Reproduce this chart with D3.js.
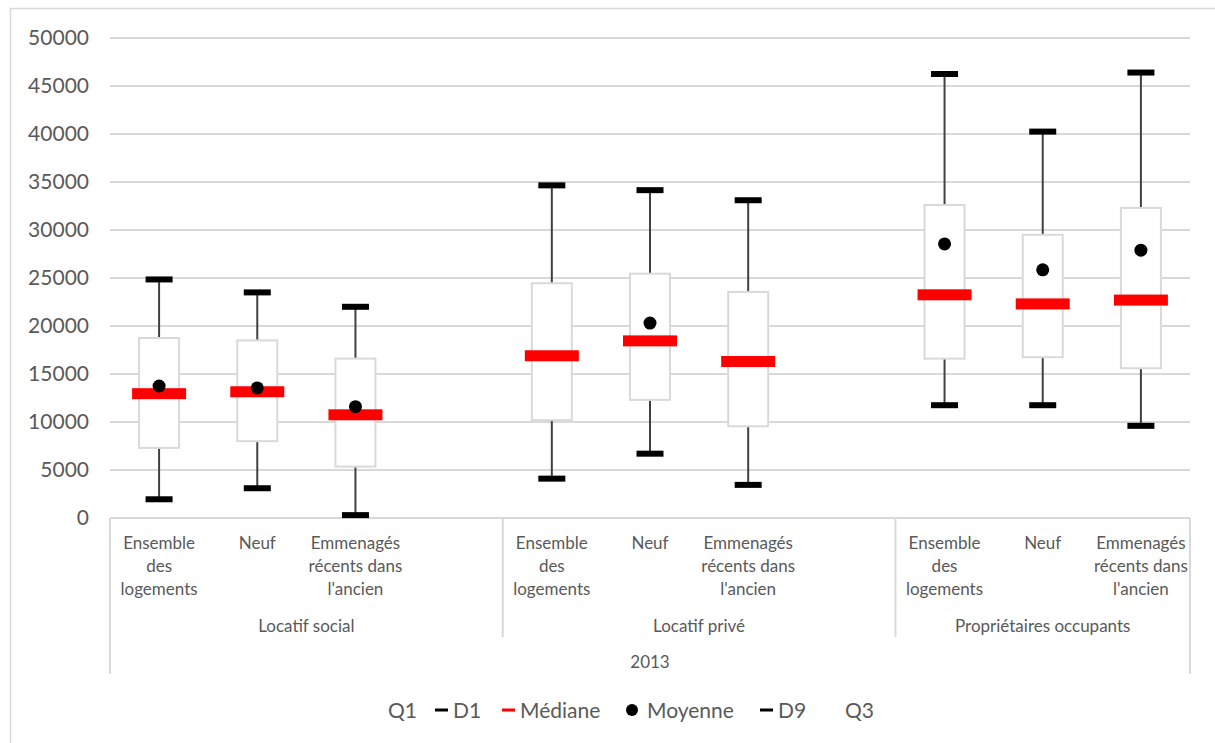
<!DOCTYPE html>
<html>
<head>
<meta charset="utf-8">
<script src="https://cdn.jsdelivr.net/npm/d3@7"></script>
<style>
  html, body { margin: 0; padding: 0; background: #fff; }
  svg { display: block; font-family: Lato, "Open Sans", sans-serif; }
</style>
</head>
<body>
<svg id="chart" width="1215" height="743"></svg>
<script>
// ---- Data ----
const year = "2013";
const groups = ["Locatif social", "Locatif privé", "Propriétaires occupants"];
const subcategories = ["Ensemble des logements", "Neuf", "Emmenagés récents dans l'ancien"];
const d1     = [1950, 3100, 300,   4100, 6700, 3450,   11750, 11750, 9600];
const q1     = [7300, 8000, 5350,  10200, 12300, 9550, 16600, 16750, 15600];
const median = [12950, 13150, 10750, 16900, 18450, 16300, 23250, 22300, 22700];
const mean   = [13750, 13550, 11600, null, 20300, null, 28550, 25850, 27900];
const q3     = [18750, 18500, 16600, 24450, 25450, 23550, 32600, 29500, 32300];
const d9     = [24850, 23500, 22000, 34650, 34150, 33100, 46250, 40250, 46400];
const yTicks = [0, 5000, 10000, 15000, 20000, 25000, 30000, 35000, 40000, 45000, 50000];
const legendItems = [
  {name: "Q1", type: "none"},
  {name: "D1", type: "dash", color: "#000"},
  {name: "Médiane", type: "dash", color: "#ff0000"},
  {name: "Moyenne", type: "dot", color: "#000"},
  {name: "D9", type: "dash", color: "#000"},
  {name: "Q3", type: "none"}
];

(function () {
const slots = [];
const boxes = [];
groups.forEach((g, gi) => {
  subcategories.forEach((s, si) => {
    const id = "g" + gi + "s" + si;
    slots.push(id);
    const k = gi * 3 + si;
    boxes.push({id, group: g, label: s, d1: d1[k], q1: q1[k], median: median[k], mean: mean[k], q3: q3[k], d9: d9[k]});
  });
  if (gi < groups.length - 1) slots.push("gap" + gi);
});

const svg = d3.select("#chart");
const textColor = "#595959";
const gridColor = "#d9d9d9";

svg.append("rect").attr("x", 10.5).attr("y", 8.5).attr("width", 1215).attr("height", 743)
  .attr("fill", "none").attr("stroke", gridColor).attr("stroke-width", 1.5);

const pLeft = 110, pRight = 1190, pTop = 38, pBottom = 518;
const x = d3.scaleBand().domain(slots).range([pLeft, pRight]).padding(0);
const y = d3.scaleLinear().domain([0, 50000]).range([pBottom, pTop]);

svg.append("g").selectAll("line").data(yTicks.filter(t => t > 0)).join("line")
  .attr("x1", pLeft).attr("x2", pRight)
  .attr("y1", d => y(d)).attr("y2", d => y(d))
  .attr("stroke", gridColor).attr("stroke-width", 2);

const yAxis = d3.axisLeft(y).tickValues(yTicks).tickSize(0).tickPadding(0).tickFormat(d3.format("d"));
const yg = svg.append("g").attr("transform", `translate(${pLeft - 21},0)`).call(yAxis);
yg.select(".domain").remove();
yg.selectAll("text").attr("fill", textColor).style("font-size", "21px").style("font-family", "Lato, sans-serif");

svg.append("line").attr("x1", pLeft).attr("x2", pRight).attr("y1", pBottom).attr("y2", pBottom)
  .attr("stroke", gridColor).attr("stroke-width", 2);

const groupBounds = [pLeft];
groups.forEach((g, gi) => {
  const endX = gi < groups.length - 1 ? x("gap" + gi) + x.bandwidth() : pRight;
  groupBounds.push(endX);
});
groupBounds.forEach((bx, i) => {
  const outer = (i === 0 || i === groupBounds.length - 1);
  svg.append("line").attr("x1", bx).attr("x2", bx).attr("y1", pBottom).attr("y2", outer ? 674 : 637)
    .attr("stroke", gridColor).attr("stroke-width", 2);
});

const labG = svg.append("g");
boxes.forEach(b => {
  const cx = x(b.id) + x.bandwidth() / 2;
  const words = b.label.split(" ");
  const t = labG.append("text").attr("text-anchor", "middle").attr("fill", textColor)
    .style("font-size", "17px");
  let lines = [];
  let line = [];
  const maxW = x.bandwidth() - 4;
  const tmp = t.append("tspan");
  words.forEach(w => {
    line.push(w);
    tmp.text(line.join(" "));
    if (tmp.node().getComputedTextLength() > maxW && line.length > 1) {
      line.pop();
      lines.push(line.join(" "));
      line = [w];
    }
  });
  lines.push(line.join(" "));
  tmp.remove();
  lines.forEach((ln, i) => {
    t.append("tspan").attr("x", cx).attr("y", 549 + i * 23).text(ln);
  });
});

groups.forEach((g, gi) => {
  const cx = (groupBounds[gi] + groupBounds[gi + 1]) / 2;
  svg.append("text").attr("x", cx).attr("y", 632).attr("text-anchor", "middle")
    .attr("fill", textColor).style("font-size", "17px").text(g);
});
svg.append("text").attr("x", (pLeft + pRight) / 2).attr("y", 668).attr("text-anchor", "middle")
  .attr("fill", textColor).style("font-size", "17px").text(year);

const bw = 40, medW = 54, medH = 11, capW = 27, capH = 6, r = 6.5;
const bg = svg.append("g");
boxes.forEach(b => {
  const cx = x(b.id) + x.bandwidth() / 2;
  bg.append("line").attr("x1", cx).attr("x2", cx).attr("y1", y(b.d9)).attr("y2", y(b.q3))
    .attr("stroke", "#404040").attr("stroke-width", 2);
  bg.append("line").attr("x1", cx).attr("x2", cx).attr("y1", y(b.q1)).attr("y2", y(b.d1))
    .attr("stroke", "#404040").attr("stroke-width", 2);
  bg.append("rect").attr("x", cx - bw / 2).attr("y", y(b.q3)).attr("width", bw)
    .attr("height", y(b.q1) - y(b.q3)).attr("fill", "#fff").attr("stroke", gridColor).attr("stroke-width", 2);
  bg.append("rect").attr("x", cx - medW / 2).attr("y", y(b.median) - medH / 2)
    .attr("width", medW).attr("height", medH).attr("fill", "#ff0000");
  if (b.mean != null) {
    bg.append("circle").attr("cx", cx).attr("cy", y(b.mean)).attr("r", r).attr("fill", "#000");
  }
  [b.d1, b.d9].forEach(v => {
    bg.append("rect").attr("x", cx - capW / 2).attr("y", y(v) - capH / 2)
      .attr("width", capW).attr("height", capH).attr("fill", "#000");
  });
});

// ---- Legend (text start positions follow the reference layout) ----
const lg = svg.append("g");
const legendY = 710;
const textStart = [388, 453, 520, 647, 778, 845];
legendItems.forEach((it, i) => {
  const tx = textStart[i];
  if (it.type === "dash") {
    lg.append("rect").attr("x", tx - 18).attr("y", legendY - 1.5).attr("width", 13).attr("height", 3).attr("fill", it.color);
  } else if (it.type === "dot") {
    lg.append("circle").attr("cx", tx - 15).attr("cy", legendY).attr("r", 6).attr("fill", it.color);
  }
  lg.append("text").attr("x", tx).attr("y", legendY + 7.5).attr("fill", textColor)
    .style("font-size", "21px").text(it.name);
});
})();
</script>
</body>
</html>
